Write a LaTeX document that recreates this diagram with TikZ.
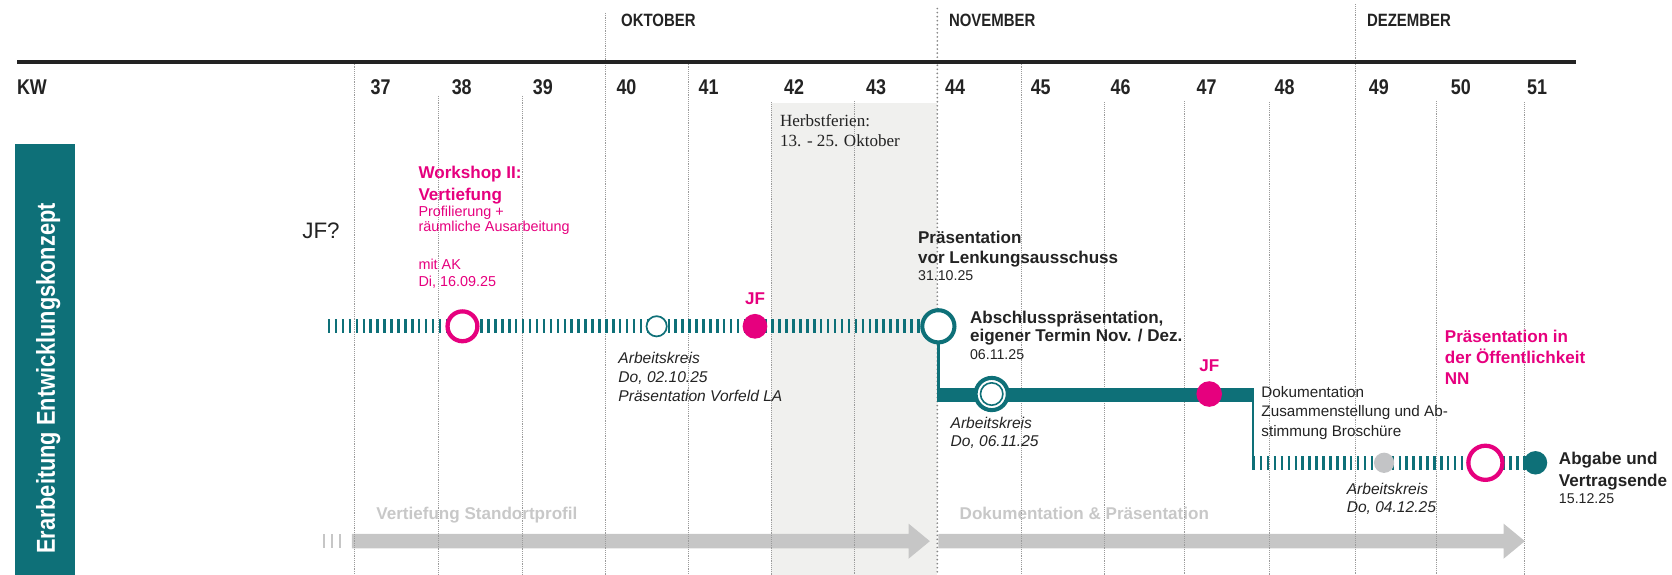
\documentclass[tikz,border=0pt]{standalone}
\usepackage{fontspec}
\setmainfont{Liberation Sans}
\newfontfamily\condf[FakeStretch=0.84]{Liberation Sans}
\newfontfamily\serf{Liberation Serif}
\definecolor{teal1}{RGB}{14,112,120}
\definecolor{mag}{RGB}{230,0,126}
\definecolor{txt}{RGB}{35,35,35}
\definecolor{gridc}{RGB}{155,155,155}
\definecolor{novc}{RGB}{135,135,135}
\definecolor{arrowc}{RGB}{198,198,198}
\definecolor{arrowtxt}{RGB}{200,200,200}
\definecolor{boxc}{RGB}{240,240,238}
\definecolor{dotgrey}{RGB}{195,196,198}
\newcommand{\fTitle}{\fontsize{16}{19}\selectfont\bfseries}
\newcommand{\fDate}{\fontsize{13.3}{16}\selectfont}
\newcommand{\fItal}{\fontsize{14.6}{18}\selectfont\itshape}
\newcommand{\fReg}{\fontsize{14.3}{18}\selectfont}
\newcommand{\fPink}{\fontsize{13.5}{16}\selectfont}
\newcommand{\fMonth}{\condf\bfseries\fontsize{16.7}{20}\selectfont}
\newcommand{\fWeek}{\condf\bfseries\fontsize{20}{24}\selectfont}
\newcommand{\fSide}{\condf\bfseries\fontsize{24.3}{28}\selectfont}
\tikzset{
  gridl/.style={draw=gridc, line width=0.75pt, dash pattern=on 0.75pt off 1pt},
  novl/.style={draw=novc, line width=1.8pt, dash pattern=on 0pt off 3.8pt, line cap=round},
  tdash/.style={draw=teal1, line width=13pt, dash pattern=on 2.3pt off 4.2pt},
  tx/.style={anchor=base west, inner sep=0pt, outer sep=0pt, text=txt},
  ring/.style={circle, inner sep=0pt, fill=white},
  dotn/.style={circle, inner sep=0pt, draw=none},
}
\begin{document}
\begin{tikzpicture}[x=1pt,y=-1pt]
\useasboundingbox (0,0) rectangle (1568,539);
% holiday box
\fill[boxc] (723.5,97) rectangle (879,539);
% side bar
\fill[teal1] (14,135) rectangle (70,539);
\node[rotate=90, anchor=base, inner sep=0pt, text=white] (side) at (51.5,355) {\fSide Erarbeitung Entwicklungskonzept};
% grey phase arrows
\draw[arrowc, line width=13.5pt, dash pattern=on 2pt off 5.5pt] (303,507.5) -- (325,507.5);
\fill[arrowc] (330,500.75) -- (852,500.75) -- (852,491) -- (872,507.5) -- (852,524) -- (852,514.25) -- (330,514.25) -- cycle;
\fill[arrowc] (880,500.75) -- (1410,500.75) -- (1410,491) -- (1430,507.5) -- (1410,524) -- (1410,514.25) -- (880,514.25) -- cycle;
\node[tx, text=arrowtxt] (ph1) at (353,487.5) {\fTitle Vertiefung Standortprofil};
\node[tx, text=arrowtxt] (ph2) at (900,487.5) {\fTitle Dokumentation \& Präsentation};
% grid lines
\draw[gridl] (332.6,58) -- (332.6,539);
\draw[gridl] (411,90) -- (411,539);
\draw[gridl] (490,90) -- (490,539);
\draw[gridl] (567.7,12) -- (567.7,539);
\draw[gridl] (645.8,58) -- (645.8,539);
\draw[gridl] (723.5,96) -- (723.5,539);
\draw[gridl] (801,95) -- (801,539);
\draw[gridl] (958,58) -- (958,539);
\draw[gridl] (1036,96) -- (1036,539);
\draw[gridl] (1111,95) -- (1111,539);
\draw[gridl] (1190.7,96) -- (1190.7,539);
\draw[gridl] (1271,4) -- (1271,539);
\draw[gridl] (1347.4,95) -- (1347.4,539);
\draw[gridl] (1429.5,96) -- (1429.5,539);
\draw[novl] (879,8) -- (879,539);
% header rule
\draw[line width=4pt, draw=txt] (16,58) -- (1478,58);
% months
\node[tx] (okt) at (582.5,25) {\fMonth OKTOBER};
\node[tx] (nov) at (890,25) {\fMonth NOVEMBER};
\node[tx] (dez) at (1282,25) {\fMonth DEZEMBER};
% weeks
\node[tx] (kw) at (16,89) {\fWeek KW};
\foreach \n/\xx in {37/357,38/433,39/509,40/587.5,41/664.5,42/744.7,43/821.6,44/895.7,45/976,46/1050.8,47/1131.5,48/1204.7,49/1293,50/1370,51/1441.5}
  \node[anchor=base, inner sep=0pt, text=txt] (w\n) at (\xx,89) {\fWeek \n};
% holiday text
\node[tx, text=txt] (hf1) at (731.5,118.8) {\serf\fontsize{16}{19}\selectfont Herbstferien:};
\node[tx, text=txt] (hf2) at (731.5,137.6) {\serf\fontsize{16}{19}\selectfont 13. - 25. Oktober};
% row 1
\draw[tdash] (307.5,306) -- (880,306);
\node[ring, draw=mag, line width=4pt, minimum size=28pt] (ws) at (433.7,306) {};
\node[ring, draw=teal1, line width=1.6pt, minimum size=19pt] (ak1) at (615.8,306) {};
\node[dotn, fill=mag, minimum size=23.2pt] (jf1) at (708,306) {};
\node[ring, draw=teal1, line width=3.8pt, minimum size=30.2pt] (big) at (880,306) {};
% connection to row 2 and 3
\coordinate (c1) at (880,377);
\coordinate (c2) at (878.75,370.5);
\coordinate (c3) at (1176.25,370.5);
\coordinate (c4) at (1175,364);
\coordinate (c5) at (1175,440.5);
\draw[teal1, line width=2.5pt] (big.south) -- (c1);
\draw[teal1, line width=13pt] (c2) -- (c3);
\draw[teal1, line width=2.5pt] (c4) -- (c5);
\node[ring, draw=teal1, line width=3.8pt, minimum size=30.2pt] (ak2) at (930,369.5) {};
\node[circle, inner sep=0pt, draw=teal1, line width=1.5pt, minimum size=21pt] (ak2i) at (ak2.center) {};
\node[dotn, fill=mag, minimum size=24pt] (jf2) at (1134,369.5) {};
% row 3
\coordinate (r3s) at (1175,434);
\coordinate (r3e) at (1432,434);
\draw[tdash] (r3s) -- (r3e);
\node[dotn, fill=dotgrey, minimum size=19pt] (ak3) at (1298,434) {};
\node[ring, draw=mag, line width=4pt, minimum size=32pt] (pub) at (1393,434) {};
\node[dotn, fill=teal1, minimum size=22pt] (fin) at (1440,434) {};
% texts
\node[tx, font=\fontsize{21}{24}\selectfont] (jfq) at (283.5,224) {JF?};
\node[tx, text=mag] (ws1) at (392.5,167) {\fTitle Workshop II:};
\node[tx, text=mag] (ws2) at (392.5,188) {\fTitle Vertiefung};
\node[tx, text=mag] (ws3) at (392.5,203) {\fPink Profilierung +};
\node[tx, text=mag] (ws4) at (392.5,217) {\fPink räumliche Ausarbeitung};
\node[tx, text=mag] (ws5) at (392.5,253) {\fPink mit AK};
\node[tx, text=mag] (ws6) at (392.5,269) {\fPink Di, 16.09.25};
\node[anchor=base, inner sep=0pt, text=mag] (jf1l) at (708,286) {\fTitle JF};
\node[tx] (a11) at (580,340.6) {\fItal Arbeitskreis};
\node[tx] (a12) at (580,359) {\fItal Do, 02.10.25};
\node[tx] (a13) at (580,376.7) {\fItal Präsentation Vorfeld LA};
\node[tx] (p1) at (861,228) {\fTitle Präsentation};
\node[tx] (p2) at (861,247.5) {\fTitle vor Lenkungsausschuss};
\node[tx] (p3) at (861,263) {\fDate 31.10.25};
\node[tx] (b1) at (909.7,303) {\fTitle Abschlusspräsentation,};
\node[tx] (b2) at (909.7,320.5) {\fTitle eigener Termin Nov. / Dez.};
\node[tx] (b3) at (909.7,337) {\fDate 06.11.25};
\node[tx] (a21) at (891.5,401.5) {\fItal Arbeitskreis};
\node[tx] (a22) at (891.5,419) {\fItal Do, 06.11.25};
\node[anchor=base, inner sep=0pt, text=mag] (jf2l) at (1134,348.6) {\fTitle JF};
\node[tx] (d1) at (1183,373) {\fReg Dokumentation};
\node[tx] (d2) at (1183,391) {\fReg Zusammenstellung und Ab-};
\node[tx] (d3) at (1183,409) {\fReg stimmung Broschüre};
\node[tx, text=mag] (o1) at (1355,321.5) {\fTitle Präsentation in};
\node[tx, text=mag] (o2) at (1355,341) {\fTitle der Öffentlichkeit};
\node[tx, text=mag] (o3) at (1355,360.5) {\fTitle NN};
\node[tx] (a31) at (1263,464) {\fItal Arbeitskreis};
\node[tx] (a32) at (1263,481) {\fItal Do, 04.12.25};
\node[tx] (e1) at (1462,436) {\fTitle Abgabe und};
\node[tx] (e2) at (1462,456) {\fTitle Vertragsende};
\node[tx] (e3) at (1462,472) {\fDate 15.12.25};
\end{tikzpicture}
\end{document}
